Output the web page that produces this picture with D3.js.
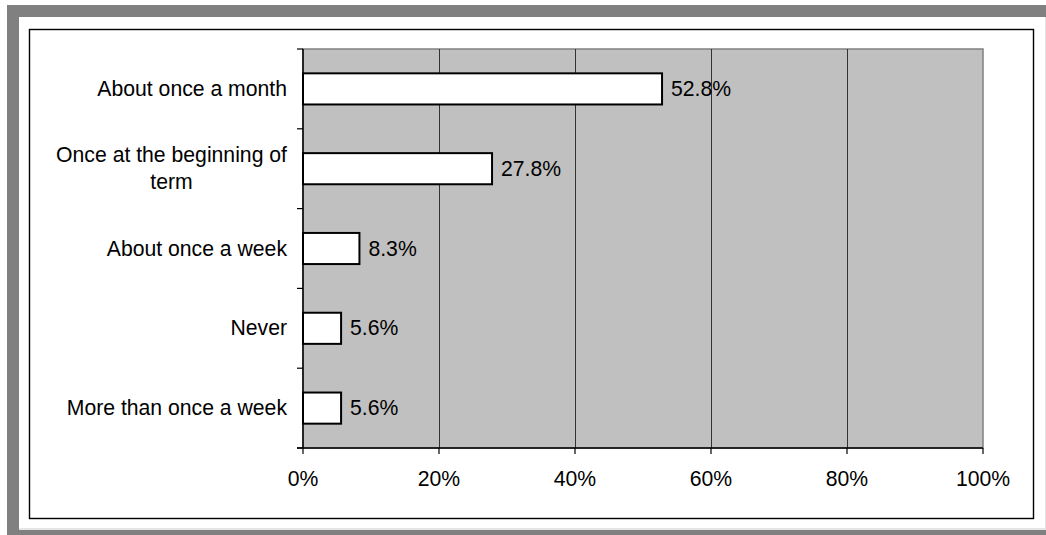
<!DOCTYPE html>
<html>
<head>
<meta charset="utf-8">
<script src="https://cdn.jsdelivr.net/npm/d3@7"></script>
<style>
  html, body { margin: 0; padding: 0; background: #ffffff; }
  svg { display: block; }
  text { font-family: "Liberation Sans", Arial, sans-serif; font-size: 21.2px; fill: #000; }
</style>
</head>
<body>
<svg id="chart" width="1046" height="535"></svg>
<script>
// Survey answers (one entry per category, top to bottom)
const categories = [
  "About once a month",
  "Once at the beginning of\nterm",
  "About once a week",
  "Never",
  "More than once a week"
];
const values = [52.8, 27.8, 8.3, 5.6, 5.6];
const xTicks = [0, 20, 40, 60, 80, 100];

const svg = d3.select("#chart");

// Frame: grey outer band, white panel, thin black chart border
svg.append("rect").attr("x", 7).attr("y", 5).attr("width", 1039).attr("height", 530).attr("fill", "#808080");
svg.append("rect").attr("x", 19).attr("y", 17).attr("width", 1027).attr("height", 513).attr("fill", "#e6e6e6");
svg.append("rect").attr("x", 19).attr("y", 17).attr("width", 1026).attr("height", 511).attr("fill", "#ffffff");
svg.append("rect").attr("x", 29.5).attr("y", 29.5).attr("width", 1004).attr("height", 489)
  .attr("fill", "none").attr("stroke", "#000").attr("stroke-width", 1.4);

// Plot area
const plot = { left: 303, right: 983, top: 49, bottom: 448 };

const x = d3.scaleLinear().domain([0, 100]).range([plot.left, plot.right]);
const y = d3.scaleBand().domain(categories).range([plot.top, plot.bottom]).padding(0);
const barH = y.step() * 0.39;

svg.append("rect")
  .attr("x", plot.left).attr("y", plot.top)
  .attr("width", plot.right - plot.left).attr("height", plot.bottom - plot.top)
  .attr("fill", "#c0c0c0").attr("stroke", "#808080").attr("stroke-width", 1.5);

// Vertical gridlines
svg.append("g").selectAll("line")
  .data(xTicks.filter(t => t > 0 && t < 100))
  .join("line")
  .attr("x1", d => x(d) + 0.5).attr("x2", d => x(d) + 0.5)
  .attr("y1", plot.top).attr("y2", plot.bottom)
  .attr("stroke", "#333").attr("stroke-width", 1);

// Bars
svg.append("g").selectAll("rect")
  .data(values)
  .join("rect")
  .attr("x", x(0))
  .attr("y", (d, i) => y(categories[i]) + (y.step() - barH) / 2)
  .attr("width", d => x(d) - x(0))
  .attr("height", barH)
  .attr("fill", "#ffffff").attr("stroke", "#000").attr("stroke-width", 2);

// Value labels
svg.append("g").selectAll("text")
  .data(values)
  .join("text")
  .attr("x", d => x(d) + 9)
  .attr("y", (d, i) => y(categories[i]) + y.step() / 2 + 7)
  .text(d => d.toFixed(1) + "%");

// Category axis (ticks on band boundaries)
const yAxisG = svg.append("g");
yAxisG.append("line")
  .attr("x1", plot.left).attr("x2", plot.left)
  .attr("y1", plot.top).attr("y2", plot.bottom)
  .attr("stroke", "#000").attr("stroke-width", 1.5);
const bounds = categories.map(c => y(c)).concat([plot.bottom]);
yAxisG.selectAll("line.tick")
  .data(bounds)
  .join("line")
  .attr("class", "tick")
  .attr("x1", plot.left - 6).attr("x2", plot.left)
  .attr("y1", d => d).attr("y2", d => d)
  .attr("stroke", "#000").attr("stroke-width", 1.2);

// Category labels, right-aligned; wrapped labels centred on their own block
const labelRight = 287;
categories.forEach(cat => {
  const lines = cat.split("\n");
  const cy = y(cat) + y.step() / 2 + 7;
  const lineH = 26.6;
  const t = svg.append("text").attr("text-anchor", "end");
  lines.forEach((ln, j) => {
    t.append("tspan")
      .attr("x", labelRight)
      .attr("y", cy + (j - (lines.length - 1) / 2) * lineH)
      .text(ln);
  });
  if (lines.length > 1) {
    const w = d3.max(t.selectAll("tspan").nodes(), n => n.getComputedTextLength());
    t.attr("text-anchor", "middle");
    t.selectAll("tspan").attr("x", labelRight - w / 2);
  }
});

// Value axis
const xAxisG = svg.append("g");
xAxisG.append("line")
  .attr("x1", plot.left - 6).attr("x2", plot.right)
  .attr("y1", plot.bottom).attr("y2", plot.bottom)
  .attr("stroke", "#000").attr("stroke-width", 1.5);
xAxisG.selectAll("line.tick")
  .data(xTicks)
  .join("line")
  .attr("class", "tick")
  .attr("x1", d => x(d)).attr("x2", d => x(d))
  .attr("y1", plot.bottom).attr("y2", plot.bottom + 6)
  .attr("stroke", "#000").attr("stroke-width", 1.2);
xAxisG.selectAll("text")
  .data(xTicks)
  .join("text")
  .attr("x", d => x(d))
  .attr("y", 486)
  .attr("text-anchor", "middle")
  .text(d => d + "%");
</script>
</body>
</html>
